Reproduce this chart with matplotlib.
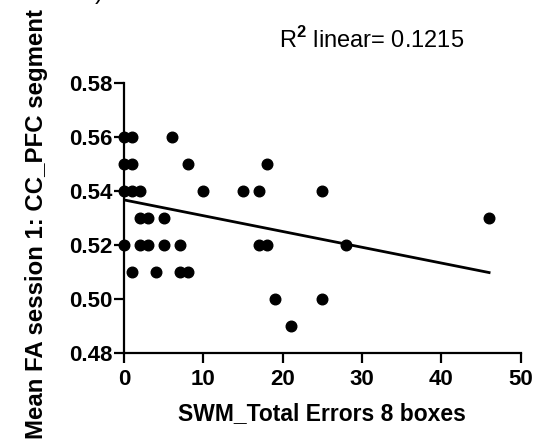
import numpy as np
from matplotlib import pyplot as plt

plt.rcParams['font.family'] = ['Liberation Sans', 'DejaVu Sans']
plt.rcParams['mathtext.fontset'] = 'custom'
plt.rcParams['mathtext.rm'] = 'Liberation Sans'
plt.rcParams['mathtext.bf'] = 'Liberation Sans:bold'

# SWM total errors (x) vs mean FA (y)
swm_errors = [0, 1, 6,
              0, 1, 8, 18,
              0, 1, 2, 10, 15, 17, 25,
              2, 3, 5, 46,
              0, 2, 3, 5, 7, 17, 18, 28,
              1, 4, 7, 8,
              19, 25,
              21]
mean_fa = [0.56, 0.56, 0.56,
           0.55, 0.55, 0.55, 0.55,
           0.54, 0.54, 0.54, 0.54, 0.54, 0.54, 0.54,
           0.53, 0.53, 0.53, 0.53,
           0.52, 0.52, 0.52, 0.52, 0.52, 0.52, 0.52, 0.52,
           0.51, 0.51, 0.51, 0.51,
           0.50, 0.50,
           0.49]
x_ticks = [0, 10, 20, 30, 40, 50]
y_ticks = [0.48, 0.50, 0.52, 0.54, 0.56, 0.58]

# linear fit as drawn in the figure
fit_intercept = 0.5367
fit_slope = -0.000585
fit_range = [0, 46]

x = np.array(swm_errors, dtype=float)
y = np.array(mean_fa)
x_fit = np.array(fit_range, dtype=float)
y_fit = fit_intercept + fit_slope*x_fit

fig = plt.figure(figsize=(5.5, 4.43), dpi=100)
ax = fig.add_axes([0.2255, 0.2032, 0.7215, 0.6094])
ax.scatter(x, y, s=58, color='black', zorder=3, clip_on=False)
ax.plot(x_fit, y_fit, color='black', linewidth=2)

ax.set_xlim(0, 50)
ax.set_ylim(0.48, 0.58)
ax.set_xticks(x_ticks)
ax.set_yticks(y_ticks)
ax.set_yticklabels(['%.2f' % v for v in y_ticks])
for s in ['top', 'right']:
    ax.spines[s].set_visible(False)
for s in ['left', 'bottom']:
    ax.spines[s].set_linewidth(1.6)
ax.tick_params(direction='out', length=7.5, width=1.6, labelsize=16)
ax.tick_params(axis='x', pad=4)
ax.tick_params(axis='y', pad=1)
for lab in ax.get_xticklabels() + ax.get_yticklabels():
    lab.set_fontweight('bold')

ax.set_xlabel('SWM_Total Errors 8 boxes', fontsize=16.5, fontweight='bold', labelpad=9)
fig.text(0.066, 0.495, 'Mean FA session 1: CC_PFC segment', rotation=90,
         fontsize=17.3, fontweight='bold', ha='center', va='center')
fig.text(0.675, 0.91, r'R$^\mathbf{2}$ linear= 0.1215', fontsize=17,
         ha='center', va='center')
fig.text(0.18, 0.99, ')', fontsize=17, ha='center', va='bottom')

fig.savefig('out.png', dpi=100)
